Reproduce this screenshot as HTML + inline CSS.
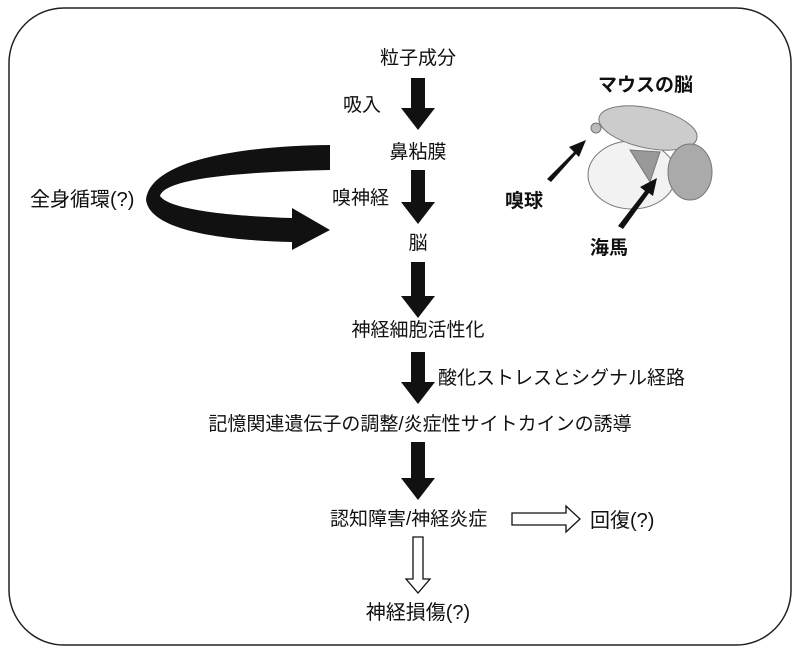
<!DOCTYPE html>
<html><head><meta charset="utf-8"><style>
body{margin:0;background:#fff;}
.t{position:absolute;font-family:"Liberation Sans","Noto Sans CJK JP",sans-serif;font-size:19px;color:#111;white-space:nowrap;line-height:1;}
.c{transform:translateX(-50%);}
.b{font-weight:bold;}
</style></head><body>
<div style="position:relative;width:800px;height:653px;overflow:hidden">
<svg width="800" height="653" style="position:absolute;left:0;top:0">
<rect x="9" y="8" width="782" height="637" rx="55" fill="none" stroke="#222" stroke-width="1.5"/>
<!-- brain drawing -->
<g stroke="#777" stroke-width="1" fill="#ddd">
<ellipse cx="632" cy="175" rx="44" ry="34" fill="#f2f2f2"/>
<ellipse cx="648" cy="128" rx="50" ry="20" fill="#ccc" transform="rotate(12 648 128)"/>
<ellipse cx="690" cy="172" rx="22" ry="28" fill="#aaa"/>
<path d="M630 150 L660 152 L650 182 Z" fill="#999"/>
<circle cx="596" cy="128" r="5" fill="#bbb"/>
</g>
<g fill="#111">
<path d="M411 78h14v30h10l-17 22l-17-22h10z"/>
<path d="M411 170h14v32h10l-17 22l-17-22h10z"/>
<path d="M411 262h14v34h10l-17 22l-17-22h10z"/>
<path d="M411 352h14v30h10l-17 22l-17-22h10z"/>
<path d="M411 442h14v36h10l-17 22l-17-22h10z"/>
<path d="M330 145 L330 170 C240 172 165 178 160 196 C170 210 230 216 292 218 L292 208 L330 230 L292 250 L292 242 C210 240 150 228 146 200 C150 160 240 146 330 145 Z"/>
<path d="M547 179 L574 152 L569 147 L586 140 L579 157 L576 154 L551 182 Z"/>
<path d="M618 226 L645 191 L640 187 L657 178 L653 196 L649 193 L623 229 Z"/>
</g>
<path d="M512 513h54v-7l14 13l-14 13v-7h-54z" fill="#fff" stroke="#111" stroke-width="1.3"/>
<path d="M413 537h10v42h7l-12 14l-12-14h7z" fill="#fff" stroke="#111" stroke-width="1.3"/>
</svg>
<div class="t c" style="left:418px;top:49px">粒子成分</div>
<div class="t" style="left:343px;top:96px">吸入</div>
<div class="t c" style="left:418px;top:143px">鼻粘膜</div>
<div class="t" style="left:332px;top:189px">嗅神経</div>
<div class="t c" style="left:418px;top:234px">脳</div>
<div class="t" style="left:30px;top:190px;font-size:20px">全身循環(?)</div>
<div class="t b" style="left:598px;top:76px">マウスの脳</div>
<div class="t b" style="left:505px;top:192px">嗅球</div>
<div class="t b" style="left:590px;top:239px">海馬</div>
<div class="t c" style="left:418px;top:321px">神経細胞活性化</div>
<div class="t" style="left:438px;top:369px">酸化ストレスとシグナル経路</div>
<div class="t c" style="left:420px;top:415px">記憶関連遺伝子の調整/炎症性サイトカインの誘導</div>
<div class="t" style="left:330px;top:510px">認知障害/神経炎症</div>
<div class="t" style="left:590px;top:511px;font-size:20px">回復(?)</div>
<div class="t c" style="left:418px;top:603px;font-size:20px">神経損傷(?)</div>
</div>
</body></html>
